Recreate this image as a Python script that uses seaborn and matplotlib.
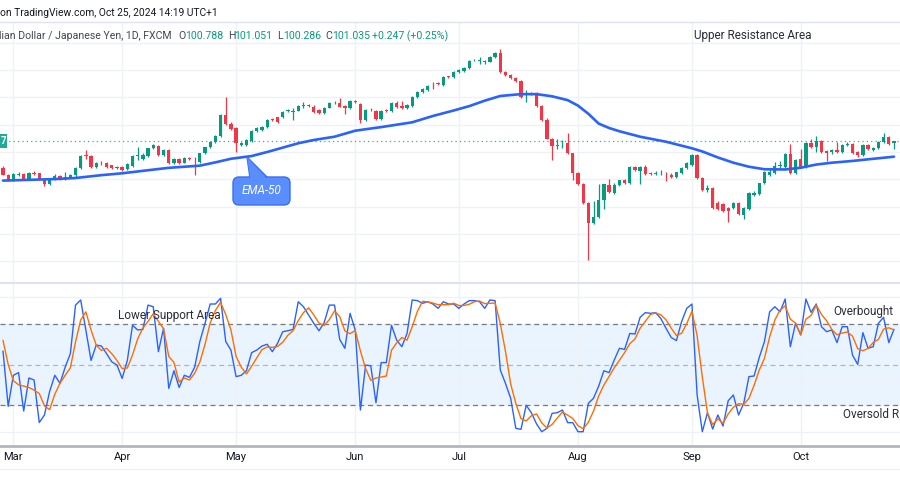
import numpy as np
import pandas as pd
import matplotlib
matplotlib.use('Agg')
import matplotlib.pyplot as plt
from matplotlib.patches import FancyBboxPatch, Polygon, Rectangle
from matplotlib.lines import Line2D
from matplotlib.transforms import IdentityTransform
import seaborn as sns

# AUD/JPY daily candles, 28 Feb - 25 Oct 2024
dates = pd.bdate_range('2024-02-28', '2024-10-25')

opens = [98.55, 97.90, 97.45, 97.92, 98.00, 97.50, 98.10, 98.05, 97.44, 97.10,
         97.52, 97.80, 97.52, 97.72, 97.85, 98.52, 99.68, 99.63, 98.60, 99.02,
         98.95, 98.78, 98.50, 98.65, 98.40, 98.70, 99.60, 99.35, 99.63, 100.34,
         100.55, 99.73, 100.18, 98.97, 99.36, 99.00, 99.45, 99.40, 99.10, 99.88,
         100.43, 100.90, 101.50, 103.39, 102.60, 102.17, 100.64, 100.64, 101.03, 101.95,
         102.00, 102.26, 103.00, 103.18, 103.23, 103.75, 103.70, 103.80, 104.25, 104.25,
         104.15, 103.85, 103.60, 104.06, 104.45, 104.50, 104.20, 104.00, 104.65, 104.40,
         102.93, 103.95, 103.75, 103.00, 103.80, 103.80, 104.46, 104.20, 104.00, 104.20,
         105.06, 105.46, 105.70, 106.25, 106.30, 106.14, 106.88, 106.85, 107.30, 107.40,
         107.66, 108.40, 108.32, 108.20, 108.27, 108.70, 109.10, 107.35, 107.05, 106.80,
         106.53, 105.20, 105.40, 105.35, 104.20, 102.93, 101.22, 100.55, 100.78, 100.85,
         99.88, 98.10, 97.07, 95.30, 93.53, 94.08, 95.60, 97.00, 96.25, 96.95,
         97.40, 97.20, 98.65, 98.30, 98.65, 98.05, 98.00, 98.05, 98.00, 97.90,
         97.74, 98.10, 98.50, 98.80, 99.73, 97.60, 96.55, 96.68, 95.36, 95.20,
         94.84, 94.90, 95.36, 94.23, 94.75, 96.10, 96.15, 97.13, 97.90, 98.05,
         98.70, 98.65, 99.85, 98.05, 99.36, 98.65, 100.85, 100.43, 101.03, 100.12,
         99.97, 100.20, 100.03, 100.68, 100.73, 99.98, 99.70, 100.64, 100.20, 100.34,
         100.94, 101.40, 100.788]
highs = [98.70, 98.00, 98.05, 98.15, 98.10, 98.20, 98.25, 98.12, 97.50, 97.60,
         97.95, 97.90, 98.20, 98.00, 98.60, 99.75, 100.15, 99.70, 99.10, 99.20,
         99.05, 98.85, 98.72, 98.72, 98.95, 99.70, 100.45, 99.90, 100.40, 100.75,
         100.62, 100.25, 100.25, 99.45, 99.45, 99.50, 99.55, 99.50, 99.95, 100.50,
         101.00, 101.55, 103.45, 105.00, 102.75, 102.30, 100.90, 101.20, 102.00, 102.25,
         102.40, 103.00, 103.10, 103.25, 103.75, 103.95, 104.00, 104.30, 104.55, 104.35,
         104.30, 103.95, 104.15, 104.55, 104.65, 104.90, 104.30, 104.75, 104.80, 104.50,
         103.95, 104.05, 103.85, 103.85, 103.90, 104.55, 104.65, 104.70, 104.40, 105.15,
         105.55, 105.85, 106.15, 106.40, 106.40, 107.00, 107.00, 107.40, 107.60, 107.75,
         108.45, 108.55, 108.70, 108.45, 108.80, 109.15, 109.40, 107.45, 107.15, 106.90,
         106.60, 105.65, 105.50, 105.45, 104.30, 103.10, 101.30, 101.20, 101.10, 101.77,
         99.95, 98.20, 97.15, 95.45, 95.50, 97.10, 97.10, 97.50, 97.15, 97.45,
         97.50, 98.70, 98.75, 98.75, 98.80, 98.15, 98.25, 98.35, 98.15, 98.05,
         98.20, 98.60, 99.05, 99.85, 99.85, 97.70, 96.95, 96.80, 95.50, 95.30,
         95.00, 95.45, 95.45, 95.00, 96.30, 96.40, 97.20, 98.30, 98.50, 99.10,
         99.20, 99.95, 100.73, 99.35, 100.30, 100.95, 101.20, 101.45, 101.10, 100.20,
         100.30, 100.95, 100.75, 100.90, 100.80, 100.05, 100.70, 100.70, 100.50, 101.00,
         101.71, 101.45, 101.051]
lows = [97.85, 97.30, 97.35, 97.80, 97.45, 97.45, 97.85, 97.40, 96.90, 96.95,
        97.45, 97.48, 97.45, 97.60, 97.75, 98.45, 99.40, 98.55, 98.50, 98.80,
        98.55, 98.45, 98.42, 98.30, 98.35, 98.65, 99.28, 99.30, 99.55, 100.25,
        99.65, 99.65, 98.90, 98.90, 98.90, 98.95, 99.30, 97.90, 99.00, 99.80,
        100.35, 100.85, 101.40, 102.45, 102.00, 99.97, 100.55, 100.55, 100.95, 101.85,
        101.95, 102.20, 102.85, 102.70, 103.15, 103.65, 102.93, 103.75, 104.05, 104.10,
        103.60, 103.50, 103.50, 104.00, 104.35, 104.10, 103.50, 103.90, 104.50, 102.66,
        102.85, 103.75, 102.90, 102.95, 103.65, 103.70, 104.00, 103.95, 103.90, 104.10,
        104.95, 105.40, 105.60, 105.80, 106.15, 106.05, 106.75, 106.75, 107.20, 107.30,
        107.60, 108.30, 108.05, 108.10, 108.20, 108.60, 107.20, 106.95, 106.65, 106.45,
        104.95, 104.60, 105.25, 104.10, 102.85, 101.15, 99.27, 100.30, 100.40, 99.80,
        97.44, 97.00, 95.20, 90.15, 93.40, 94.00, 94.75, 96.20, 96.15, 96.85,
        97.10, 97.10, 98.25, 97.10, 97.90, 97.90, 97.85, 97.90, 97.30, 97.65,
        97.65, 98.00, 98.40, 98.70, 97.50, 96.40, 96.30, 94.80, 94.65, 94.50,
        93.60, 94.80, 94.25, 93.90, 94.65, 95.95, 96.05, 97.05, 97.80, 97.95,
        98.50, 98.55, 98.00, 97.95, 98.55, 98.55, 100.35, 100.00, 99.95, 99.20,
        99.85, 99.95, 99.95, 100.55, 99.80, 99.55, 99.60, 100.15, 100.10, 100.25,
        100.85, 100.65, 100.286]
closes = [97.90, 97.40, 97.95, 98.02, 97.50, 98.08, 98.00, 97.44, 97.07, 97.55,
          97.82, 97.55, 97.72, 97.93, 98.52, 99.63, 99.60, 98.60, 99.02, 98.95,
          98.60, 98.50, 98.65, 98.35, 98.90, 99.63, 99.75, 99.73, 100.34, 100.64,
          99.73, 100.18, 98.97, 99.36, 98.97, 99.42, 99.40, 99.33, 99.88, 100.43,
          100.95, 101.50, 103.39, 102.54, 102.08, 100.80, 100.80, 101.10, 101.95, 102.17,
          102.30, 102.93, 102.95, 102.77, 103.69, 103.80, 103.80, 104.20, 104.30, 104.20,
          103.70, 103.60, 104.06, 104.46, 104.50, 104.15, 104.00, 104.67, 104.60, 102.93,
          103.85, 103.90, 103.00, 103.75, 103.75, 104.46, 104.15, 104.00, 104.30, 105.06,
          105.46, 105.75, 106.07, 106.20, 106.25, 106.90, 106.85, 107.30, 107.50, 107.66,
          108.36, 108.45, 108.36, 108.36, 108.73, 109.10, 107.30, 107.05, 106.75, 106.53,
          105.00, 105.40, 105.35, 104.20, 102.93, 101.22, 100.55, 100.64, 100.85, 99.88,
          98.10, 97.07, 95.30, 93.53, 94.08, 95.60, 97.04, 96.30, 97.00, 97.40,
          97.17, 98.65, 98.35, 98.65, 97.98, 98.03, 98.10, 98.12, 97.95, 97.74,
          98.14, 98.50, 98.97, 99.73, 97.60, 96.55, 96.68, 94.90, 94.75, 94.60,
          94.62, 95.36, 94.32, 94.90, 96.20, 96.27, 97.13, 98.20, 98.20, 98.72,
          98.75, 99.85, 98.05, 99.27, 98.65, 100.85, 100.43, 101.03, 100.03, 99.94,
          100.20, 100.03, 100.64, 100.73, 99.88, 99.70, 100.64, 100.25, 100.40, 100.94,
          101.40, 100.73, 101.035]

# EMA-50 read at a subset of candles
ema_idx = [0, 5, 10, 14, 19, 23, 28, 32, 35, 38, 41, 44, 48, 51, 54, 57, 60, 64,
           68, 73, 79, 83, 87, 90, 93, 96, 100, 103, 106, 109, 111, 113, 115, 117,
           119, 123, 128, 133, 135, 138, 141, 144, 147, 151, 154, 157, 160, 164, 167, 172]
ema_val = [97.38, 97.45, 97.52, 97.62, 97.88, 98.05, 98.33, 98.55, 98.65, 98.75,
           99.05, 99.38, 99.63, 100.00, 100.40, 100.80, 101.10, 101.40, 101.95, 102.28,
           102.72, 103.30, 103.80, 104.20, 104.70, 105.13, 105.30, 105.30, 105.10, 104.75,
           104.25, 103.50, 102.60, 102.20, 101.90, 101.40, 100.94, 100.34, 100.05, 99.50,
           99.02, 98.65, 98.42, 98.40, 98.56, 98.85, 99.02, 99.18, 99.33, 99.57]

# Stochastic %K and %D
stoch_k = [60, 19, 42, 44, 15.5, 40, 38.5, 7, 12.6, 30,
           42, 36, 48, 58, 94, 97.8, 75.6, 53, 64.4, 63.7,
           58, 52, 49.6, 39.7, 53, 79, 75.6, 76, 94, 92.8,
           59.5, 76.8, 32.3, 45.4, 33, 42, 40.5, 48, 67, 80.5,
           94.8, 94.8, 99, 67, 60.7, 41, 42, 45.4, 58.8, 60.7,
           63.7, 65, 59.5, 65.7, 74.3, 75, 76, 96.5, 92.8, 86.7,
           80.5, 75, 81, 94, 94, 68.6, 62, 87.9, 75.6, 16.3,
           49.6, 49, 21.7, 51.4, 51.4, 79, 68, 63.2, 73, 97.8,
           97.3, 95.3, 96.5, 94.8, 91.6, 96.5, 94.8, 94.8, 91.6, 94.8,
           97.3, 97.3, 96.5, 91.6, 97.8, 97.3, 46, 36, 25, 2.7,
           2, 19.8, 14.3, 6, 0.2, 2.7, 13.8, 14.3, 16.3, 6.9,
           6.9, 0.2, 0.2, 21.2, 25, 34, 45.4, 44, 53.3, 62,
           61.2, 73, 72.6, 85, 88.4, 87.9, 88.4, 84, 76.8, 70,
           67.7, 81.7, 91.6, 94.8, 27.4, 0.2, 14.3, 2.2, 12.6, 4.4,
           23.2, 27.4, 12.6, 21.2, 41, 41.5, 55.3, 67, 89, 92.8,
           89, 98.5, 63.2, 80.5, 71.9, 98.5, 88.6, 94.8, 78, 74.3,
           75.6, 66.2, 78, 78, 57, 50.1, 73.6, 62, 63.2, 80.5,
           85, 66.2, 76]
stoch_d = [68, 50, 38, 35, 34, 33, 31, 28.5, 19.4, 16.5,
           28, 36, 42, 47.5, 66.7, 83, 89, 75.5, 64.3, 60.4,
           62, 58, 53, 47, 47.4, 57, 69, 77, 81.9, 87.6,
           82, 76.4, 56, 51.5, 37, 40, 38.5, 43.5, 51.8, 65,
           80.8, 90, 96, 87, 75.6, 56, 48, 43, 48.7, 55,
           61, 63, 62.7, 63.4, 66.5, 71.7, 75, 82.5, 88.4, 92,
           86.7, 80.7, 78.8, 83.3, 89.7, 85.5, 74.9, 72.8, 75.2, 60,
           47, 38.3, 40, 40.7, 41.5, 60.6, 66, 70, 68, 78,
           89.4, 96.8, 96.4, 95.5, 94.3, 94.3, 94.3, 95.4, 93.7, 93.7,
           94.6, 96.5, 97, 95.1, 95.3, 95.6, 80.4, 59.8, 35.7, 21.2,
           9.9, 8.2, 12, 13.4, 6.8, 3, 5.6, 10.3, 14.8, 12.5,
           10, 4.7, 2.4, 7.2, 15.5, 26.7, 34.8, 41.1, 47.6, 53.1,
           58.8, 65.4, 68.9, 76.9, 82, 87.1, 88.2, 86.8, 83.1, 76.9,
           71.5, 73.1, 80.3, 89.4, 71.3, 40.8, 14, 5.6, 9.7, 6.4,
           13.4, 18.3, 21, 20.4, 24.9, 34.6, 45.9, 54.6, 70.4, 82.9,
           90.3, 93.4, 83.6, 80.7, 71.9, 83.6, 86.3, 94, 87.1, 82.4,
           76, 72, 73.3, 74.1, 71, 61.7, 60.2, 61.9, 66.3, 68.6,
           76.2, 77.2, 75.7]

month_labels = ['Mar', 'Apr', 'May', 'Jun', 'Jul', 'Aug', 'Sep', 'Oct']

UP, DOWN = '#089981', '#f23645'
GRID = '#eef1f6'
TXT = '#131722'

sns.set_theme(style='white')
plt.rcParams['font.family'] = ['Roboto', 'DejaVu Sans']

W, H = 900, 500
fig = plt.figure(figsize=(9, 5), dpi=100)
fig.patch.set_facecolor('white')


def fy(y):
    # pixel row (from top) -> figure fraction
    return 1 - y / H


ax = fig.add_axes([0, fy(282), 1, (282 - 22) / H])
ax2 = fig.add_axes([0, fy(445), 1, (445 - 283) / H])

n = len(closes)
x = np.arange(n)
month_pos = [int(np.argmax((dates.month == m))) for m in range(3, 11)]
xlim = (-3 / 5.18, 897 / 5.18)

# price pane
o = np.array(opens)
c = np.array(closes)
cols = np.where(c >= o, UP, DOWN)
ax.vlines(x, lows, highs, colors=cols, lw=0.9, zorder=2)
ax.bar(x, np.maximum(np.abs(c - o), 0.07), bottom=np.minimum(o, c), width=0.64,
       color=cols, linewidth=0, zorder=3)
sns.lineplot(x=ema_idx, y=ema_val, ax=ax, color='#2962ff', lw=1.9, zorder=4)
ax.axhline(closes[-1], color=UP, lw=0.9, ls=(0, (1, 2.5)), alpha=0.8, zorder=1)

ax.set_xlim(*xlim)
ax.set_ylim(100 - 130 / 10.92, 100 + 130 / 10.92)
ax.set_xticks(month_pos)
ax.set_yticks(np.arange(90, 111, 2.5))
ax.grid(True, color=GRID, lw=1)
ax.set_axisbelow(True)
ax.tick_params(length=0, labelbottom=False, labelleft=False)
ax.set_xlabel('')
ax.set_ylabel('')
for s in ax.spines.values():
    s.set_visible(False)

# stochastic pane
ax2.axhspan(20, 80, color='#e9f4fe', lw=0, zorder=0)
ax2.axhline(80, color='#787b86', lw=0.9, ls=(0, (4, 3)), zorder=1)
ax2.axhline(50, color='#787b86', lw=0.9, ls=(0, (4, 3)), alpha=0.5, zorder=1)
ax2.axhline(20, color='#787b86', lw=0.9, ls=(0, (4, 3)), zorder=1)
sns.lineplot(x=x, y=stoch_k, ax=ax2, color='#2962ff', lw=1.0, zorder=3)
sns.lineplot(x=x, y=stoch_d, ax=ax2, color='#ff6d00', lw=1.0, zorder=3)
ax2.set_xlim(*xlim)
ax2.set_ylim((432 - 445) / 1.35, (432 - 283) / 1.35)
ax2.set_yticks([0, 20, 40, 60, 80, 100])
ax2.set_xticks(month_pos, month_labels)
ax2.grid(True, color=GRID, lw=1)
ax2.set_axisbelow(True)
ax2.tick_params(axis='x', length=0, pad=5, labelsize=8, labelcolor=TXT)
ax2.tick_params(axis='y', length=0, labelleft=False)
ax2.set_xlabel('')
ax2.set_ylabel('')
for s in ax2.spines.values():
    s.set_visible(False)

# pane borders
for yy, col, lw in [(22, '#e0e3eb', 1), (282.5, '#e0e3eb', 1.6), (445.5, '#b2b5be', 2),
                    (469, '#eef1f6', 1)]:
    fig.add_artist(Line2D([0, 1], [fy(yy)] * 2, transform=fig.transFigure, color=col, lw=lw))

# header texts
fig.text(0, fy(13), 'on TradingView.com, Oct 25, 2024 14:19 UTC+1', fontsize=7.4,
         color=TXT, va='center', ha='left')
legend_parts = [('lian Dollar / Japanese Yen, 1D, FXCM', -1, '#434651'),
                ('O', 178, '#434651'), ('100.788', 185, UP),
                ('H', 228, '#434651'), ('101.051', 234, UP),
                ('L', 277, '#434651'), ('100.286', 283, UP),
                ('C', 325, '#434651'), ('101.035', 332, UP),
                ('+0.247 (+0.25%)', 372, UP)]
for s, px, col in legend_parts:
    fig.text(px / W, fy(36), s, fontsize=7.6, color=col, va='center', ha='left')

# annotations
for s, px, py in [('Upper Resistance Area', 694, 36), ('Lower Support Area', 118, 316),
                  ('Overbought', 833, 311), ('Oversold R', 843, 415)]:
    fig.text(px / W, fy(py), s, fontsize=8.5, color='#2a2e39', va='center', ha='left')

# last price tag at the left edge
fig.add_artist(Rectangle((0, fy(148)), 6.5 / W, 14 / H, transform=fig.transFigure,
                         color='#22ab94', lw=0))
fig.text(0.5 / W, fy(141), '7', fontsize=7, color='white', va='center', ha='left',
         fontweight='bold')

# EMA-50 callout
idt = IdentityTransform()
fill, edge = '#5a8dff', '#3a6ff0'
fig.add_artist(Polygon([(247, H - 157), (250, H - 178), (268, H - 178)], closed=True,
                       transform=idt, facecolor=fill, edgecolor=edge, lw=1))
fig.add_artist(FancyBboxPatch((233, H - 205), 57, 28, boxstyle='round,pad=0,rounding_size=6',
                              transform=idt, facecolor=fill, edgecolor=edge, lw=1))
fig.add_artist(Polygon([(247, H - 157), (250.6, H - 180), (267.4, H - 180)], closed=True,
                       transform=idt, facecolor=fill, edgecolor='none'))
fig.text(261.5 / W, fy(191), 'EMA-50', fontsize=8.5, color='white', style='italic',
         va='center', ha='center')

fig.savefig('out.png', dpi=100, facecolor='white')
